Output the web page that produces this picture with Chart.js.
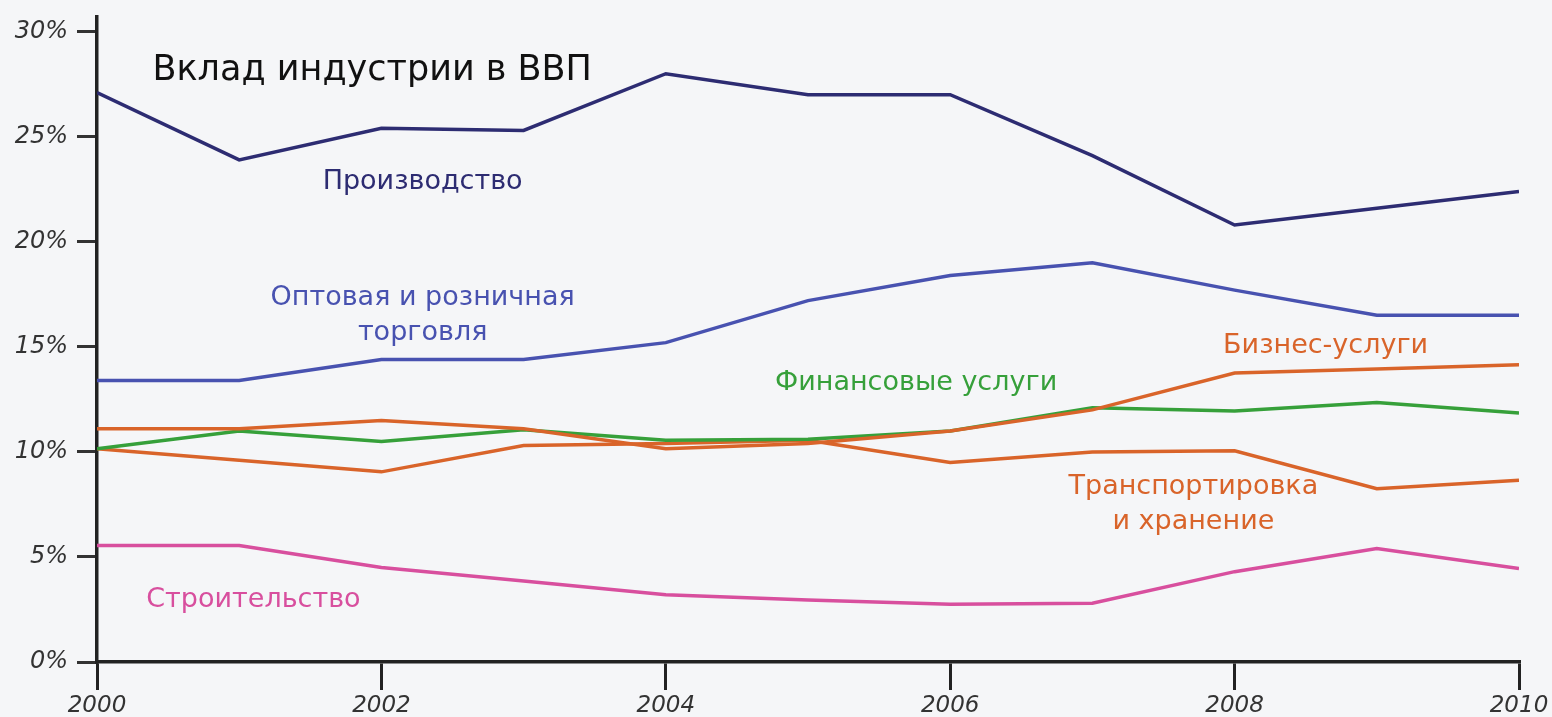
<!DOCTYPE html>
<html>
<head>
<meta charset="utf-8">
<script src="https://cdn.jsdelivr.net/npm/chart.js@4.4.0/dist/chart.umd.min.js"></script>
<style>
  html, body { margin: 0; padding: 0; background: #f5f6f8; }
  #wrap { width: 1552px; height: 717px; }
</style>
</head>
<body>
<div id="wrap"><canvas id="gdpChart" width="1552" height="717"></canvas></div>
<script>
const years = [2000, 2001, 2002, 2003, 2004, 2005, 2006, 2007, 2008, 2009, 2010];
const manufacturing = [27.1, 23.9, 25.4, 25.3, 28.0, 27.0, 27.0, 24.1, 20.8, 21.6, 22.4];
const tradeRetail = [13.4, 13.4, 14.4, 14.4, 15.2, 17.2, 18.4, 19.0, 17.7, 16.5, 16.5];
const businessServices = [11.1, 11.1, 11.5, 11.1, 10.15, 10.4, 11.0, 12.0, 13.75, 13.95, 14.15];
const financialServices = [10.15, 11.0, 10.5, 11.05, 10.55, 10.6, 11.0, 12.1, 11.95, 12.35, 11.85];
const transport = [10.15, 9.6, 9.05, 10.3, 10.4, 10.55, 9.5, 10.0, 10.05, 8.25, 8.65];
const construction = [5.55, 5.55, 4.5, 3.85, 3.2, 2.95, 2.75, 2.8, 4.3, 5.4, 4.45];
const yTicks = [0, 5, 10, 15, 20, 25, 30];
const xTicks = [2000, 2002, 2004, 2006, 2008, 2010];

// подписи серий (в единицах данных: год, процент)
const notes = [
    { text: 'Вклад индустрии в ВВП', x: 2000.39, y: 28.15, color: '#111111', size: 35, align: 'left' },
    { text: 'Производство', x: 2002.29, y: 22.86, color: '#2d2c72', size: 27, align: 'center' },
    { text: 'Оптовая и розничная', x: 2002.29, y: 17.33, color: '#4852b0', size: 27, align: 'center' },
    { text: 'торговля', x: 2002.29, y: 15.67, color: '#4852b0', size: 27, align: 'center' },
    { text: 'Бизнес-услуги', x: 2008.64, y: 15.05, color: '#d9642a', size: 27, align: 'center' },
    { text: 'Финансовые услуги', x: 2005.76, y: 13.29, color: '#36a03a', size: 27, align: 'center' },
    { text: 'Транспортировка', x: 2007.71, y: 8.33, color: '#d9642a', size: 27, align: 'center' },
    { text: 'и хранение', x: 2007.71, y: 6.67, color: '#d9642a', size: 27, align: 'center' },
    { text: 'Строительство', x: 2001.10, y: 2.95, color: '#d84f9e', size: 27, align: 'center' }
];

const toPoints = arr => arr.map((v, i) => ({ x: years[i], y: v }));

const notesPlugin = {
    id: 'notes',
    afterDatasetsDraw(chart) {
        const { ctx, scales } = chart;
        ctx.save();
        ctx.textBaseline = 'middle';
        notes.forEach(n => {
            ctx.font = n.size + 'px "DejaVu Sans"';
            ctx.fillStyle = n.color;
            ctx.textAlign = n.align;
            ctx.fillText(n.text, scales.x.getPixelForValue(n.x), scales.y.getPixelForValue(n.y));
        });
        ctx.restore();
    }
};

const lineStyle = color => ({
    borderColor: color,
    backgroundColor: color,
    borderWidth: 3.5,
    pointRadius: 0,
    tension: 0,
    fill: false
});

const ctx = document.getElementById('gdpChart').getContext('2d');
const gdpChart = new Chart(ctx, {
    type: 'line',
    data: {
        datasets: [
            { label: 'Производство', data: toPoints(manufacturing), ...lineStyle('#2d2c72') },
            { label: 'Оптовая и розничная торговля', data: toPoints(tradeRetail), ...lineStyle('#4852b0') },
            { label: 'Бизнес-услуги', data: toPoints(businessServices), ...lineStyle('#d9642a') },
            { label: 'Финансовые услуги', data: toPoints(financialServices), ...lineStyle('#36a03a') },
            { label: 'Транспортировка и хранение', data: toPoints(transport), ...lineStyle('#d9642a') },
            { label: 'Строительство', data: toPoints(construction), ...lineStyle('#d84f9e') }
        ]
    },
    options: {
        responsive: false,
        animation: false,
        layout: { padding: { top: 17, right: 33, left: 0, bottom: 0 } },
        plugins: {
            legend: { display: false },
            tooltip: { enabled: false }
        },
        scales: {
            x: {
                type: 'linear',
                min: 2000,
                max: 2010,
                afterBuildTicks: scale => { scale.ticks = xTicks.map(v => ({ value: v })); },
                afterFit: scale => { scale.height = 55; scale.paddingLeft = 0; },
                border: { color: '#222222', width: 3.5 },
                grid: { drawOnChartArea: false, color: '#222222', lineWidth: 3, tickLength: 28 },
                ticks: {
                    color: '#333333',
                    padding: 2,
                    maxRotation: 0,
                    font: { family: '"DejaVu Sans"', size: 23, style: 'italic' },
                    callback: v => String(v)
                }
            },
            y: {
                min: 0,
                max: 30.7,
                afterBuildTicks: scale => { scale.ticks = yTicks.map(v => ({ value: v })); },
                afterFit: scale => {
                    scale.width = 97;
                    scale.paddingTop = 0;
                    scale.paddingBottom = 0;
                },
                border: { color: '#222222', width: 3.5 },
                grid: { drawOnChartArea: false, color: '#333333', lineWidth: 3, tickLength: 20 },
                ticks: {
                    color: '#333333',
                    padding: 9,
                    font: { family: '"DejaVu Sans"', size: 24, style: 'italic' },
                    callback: v => v + '%'
                }
            }
        }
    },
    plugins: [notesPlugin]
});
</script>
</body>
</html>
